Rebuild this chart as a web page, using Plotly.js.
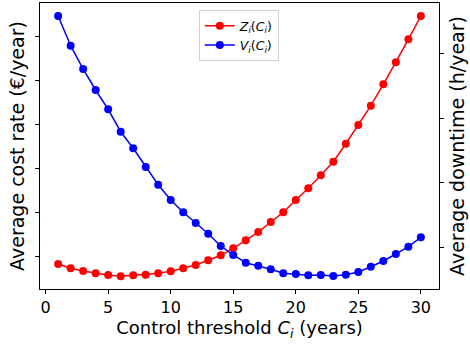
<!DOCTYPE html>
<html>
<head>
<meta charset="utf-8">
<script src="https://cdn.plot.ly/plotly-3.0.1.min.js"></script>
<style>html,body{margin:0;padding:0;background:#fff;}#chart{width:470px;height:345px;}</style>
</head>
<body>
<div id="chart"></div>
<script>
// Control threshold C_i (years)
const thresholds = [1,2,3,4,5,6,7,8,9,10,11,12,13,14,15,16,17,18,19,20,21,22,23,24,25,26,27,28,29,30];
// Z_i(C_i): average cost rate (left axis, unlabelled units)
const costRate = [0.834,0.736,0.675,0.623,0.584,0.555,0.577,0.591,0.623,0.668,0.736,0.811,0.918,1.032,1.191,
                  1.373,1.561,1.789,2.009,2.289,2.555,2.850,3.159,3.568,3.993,4.432,4.918,5.418,5.941,6.470];
// V_i(C_i): average downtime (right axis, unlabelled units)
const downtime = [4.587,4.126,3.764,3.438,3.138,2.790,2.533,2.242,1.967,1.730,1.539,1.373,1.207,1.016,0.876,
                  0.756,0.710,0.654,0.592,0.581,0.561,0.565,0.550,0.570,0.612,0.694,0.783,0.891,1.005,1.151];
const xTicks = [0,5,10,15,20,25,30];
const leftTicks = [1,2,3,4,5,6];
const rightTicks = [1,2,3,4];

const font = "DejaVu Sans, sans-serif";
const traces = [
  {x: thresholds, y: costRate, name: "<i>Z<sub>i</sub></i>(<i>C<sub>i</sub></i>)", type: "scatter", mode: "lines+markers",
   line: {color: "#ff0000", width: 1.5}, marker: {color: "#ff0000", size: 8}, yaxis: "y"},
  {x: thresholds, y: downtime, name: "<i>V<sub>i</sub></i>(<i>C<sub>i</sub></i>)", type: "scatter", mode: "lines+markers",
   line: {color: "#0000ff", width: 1.5}, marker: {color: "#0000ff", size: 8}, yaxis: "y2"}
];
const layout = {
  width: 470, height: 345,
  margin: {l: 40, r: 31, t: 3, b: 56},
  paper_bgcolor: "#fff", plot_bgcolor: "#fff",
  font: {family: font, color: "#000"},
  showlegend: true,
  legend: {x: 0.398, y: 0.975, xanchor: "left", yanchor: "top", bgcolor: "#fff", bordercolor: "#d0d0d0", borderwidth: 1,
           font: {size: 12.5, family: font}, tracegroupgap: 0},
  xaxis: {range: [-0.45, 31.45], tickvals: xTicks, ticks: "outside", ticklen: 4, tickcolor: "#000",
          showline: true, linecolor: "#000", linewidth: 1, mirror: true, showgrid: false, zeroline: false,
          tickfont: {size: 16, family: font},
          title: {text: "Control threshold <i>C<sub>i</sub></i> (years)", font: {size: 18, family: font}, standoff: 4}},
  yaxis: {range: [0.266, 6.766], tickvals: leftTicks, showticklabels: false, ticks: "outside", ticklen: 4, tickcolor: "#000",
          showline: true, linecolor: "#000", linewidth: 1, showgrid: false, zeroline: false,
          title: {text: "Average cost rate (€/year)", font: {size: 19, family: font}, standoff: 5}},
  yaxis2: {range: [0.348, 4.789], tickvals: rightTicks, showticklabels: false, ticks: "outside", ticklen: 4, tickcolor: "#000",
           overlaying: "y", side: "right", showline: true, linecolor: "#000", linewidth: 1, showgrid: false, zeroline: false,
           title: {text: "Average downtime (h/year)", font: {size: 19, family: font}, standoff: 7}}
};
Plotly.newPlot("chart", traces, layout, {displayModeBar: false, staticPlot: true});
</script>
</body>
</html>
